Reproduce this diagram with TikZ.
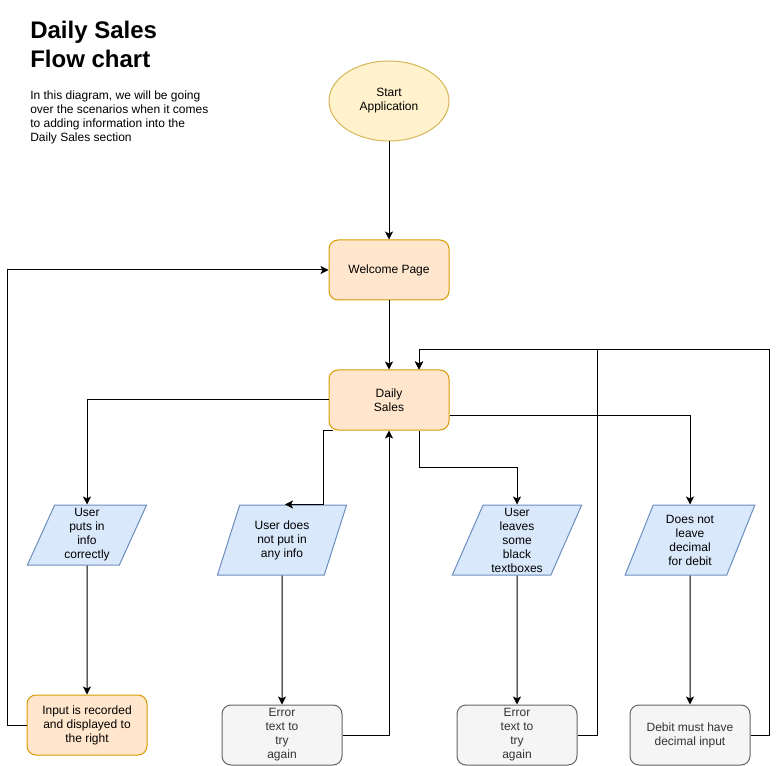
\documentclass[tikz,border=0pt]{standalone}
\usepackage{fontspec}
\setmainfont{Liberation Sans}
\usetikzlibrary{shapes.geometric,arrows.meta,calc}
\definecolor{startfill}{HTML}{FFF2CC}
\definecolor{startline}{HTML}{D6B656}
\definecolor{pagefill}{HTML}{FFE6CC}
\definecolor{pageline}{HTML}{D79B00}
\definecolor{inputfill}{HTML}{DAE8FC}
\definecolor{inputline}{HTML}{6C8EBF}
\definecolor{errorfill}{HTML}{F5F5F5}
\definecolor{errorline}{HTML}{666666}
\definecolor{errortext}{HTML}{333333}
\tikzset{
  boxtext/.style={font=\fontsize{9}{10.5}\selectfont, align=center, inner sep=0.5pt, line width=0.75pt},
  startnode/.style={boxtext, ellipse, draw=startline, fill=startfill, minimum width=90pt, minimum height=60pt},
  pagenode/.style={boxtext, rectangle, rounded corners=6.75pt, draw=pageline, fill=pagefill, minimum width=90pt, minimum height=45pt},
  inputnode/.style={boxtext, trapezium, trapezium left angle=70, trapezium right angle=110, trapezium stretches, draw=inputline, fill=inputfill, minimum width=97.5pt, minimum height=52.5pt},
  errornode/.style={boxtext, rectangle, rounded corners=6.75pt, draw=errorline, fill=errorfill, text=errortext, minimum width=90pt, minimum height=45pt},
  flow/.style={line width=0.75pt, -{Stealth[length=6pt,width=6pt,inset=1.5pt]}},
}
\begin{document}
\begin{tikzpicture}[x=0.75pt,y=-0.75pt]
    \useasboundingbox (0,0) rectangle (778,766);

    % Drawing title and note
    \node (title) [anchor=north west, inner sep=0pt, align=left, font=\fontsize{18}{22}\selectfont\bfseries] at (30,21) {Daily Sales\\Flow chart};%
    \node (note) [anchor=north west, inner sep=0pt, align=left, font=\fontsize{9}{10.5}\selectfont] at (30,90.5) {In this diagram, we will be going\\over the scenarios when it comes\\to adding information into the\\Daily Sales section};%

    % Drawing start and pages
    \node (start) [startnode] at (389,101) {Start\\Application};%
    \node (welcome) [pagenode] at (389,270) {Welcome Page};%
    \node (daily) [pagenode] at (389,400) {Daily\\Sales};%

    % Drawing scenarios
    \node (correct) [inputnode, minimum width=90pt, minimum height=45pt] at (87,535) {User\\puts in\\info\\correctly};%
    \node (noinfo) [inputnode] at (282,540) {User does\\not put in\\any info};%
    \node (blank) [inputnode] at (517,540) {User\\leaves\\some\\black\\textboxes};%
    \node (decimal) [inputnode] at (690,540) {Does not\\leave\\decimal\\for debit};%

    % Drawing results
    \node (recorded) [pagenode] at (87,725) {Input is recorded\\and displayed to\\the right};%
    \node (error1) [errornode] at (282,735) {Error\\text to\\try\\again};%
    \node (error2) [errornode] at (517,735) {Error\\text to\\try\\again};%
    \node (debit) [errornode] at (690,735) {Debit must have\\decimal input};%

    % Drawing main flow
    \draw [flow] (start) -- (welcome);%
    \draw [flow] (welcome) -- (daily);%

    % Drawing flow from Daily Sales to scenarios
    \draw [flow] (daily.west) -| (correct.north);%
    \draw [flow] ($(daily.south west)+(4,0)$) -- ++(-9,0) |- ($(noinfo.north)+(3,0)$);%
    \draw [flow] ($(daily.south)+(30,0)$) -- ++(0,37) -| (blank.north);%
    \draw [flow] ($(daily.east)+(0,15)$) -| (decimal.north);%

    % Drawing flow from scenarios to results
    \draw [flow] (correct.south) -- (recorded.north);%
    \draw [flow] (noinfo.south) -- (error1.north);%
    \draw [flow] (blank.south) -- (error2.north);%
    \draw [flow] (decimal.south) -- (debit.north);%

    % Drawing flow back
    \draw [flow] (recorded.west) -- ++(-19,0) |- (welcome.west);%
    \draw [flow] (error1.east) -| (daily.south);%
    \draw [flow] (error2.east) -- ++(20,0) |- ($(daily.north)+(30,-20)$) -- ($(daily.north)+(30,0)$);%
    \draw [flow] (debit.east) -- ++(19,0) |- ($(daily.north)+(30,-20)$) -- ($(daily.north)+(30,0)$);%
\end{tikzpicture}
\end{document}
